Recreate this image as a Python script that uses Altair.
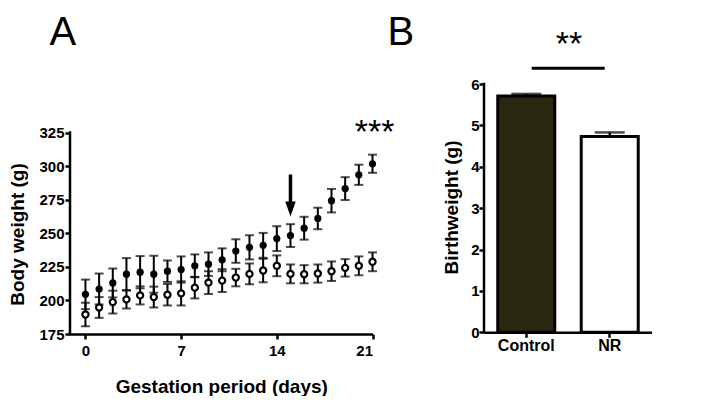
import altair as alt
import pandas as pd

FONT = "Liberation Sans"

# ---------- Panel A data ----------
days = list(range(22))
control_mean = [204.5, 208.5, 213, 219.5, 221, 219.5, 221.75, 223, 225.75, 227, 230.25,
                236.75, 239.5, 241, 246, 248.25, 253.75, 261, 274.25, 283.25, 293.5, 301.75]
control_sem = [11, 11.5, 10.75, 12, 12, 13.75, 8, 9.75, 8.5, 8.75, 8.5,
               8.75, 9, 9.25, 9.25, 8.5, 8.5, 8, 8.75, 8.5, 7.5, 6.75]
nr_mean = [189.5, 194.75, 198.75, 200.75, 203.75, 202.5, 204.25, 205.25, 209.5, 213.25, 214.75,
           217, 219.75, 222.25, 225.75, 219.75, 219.5, 220, 221.75, 224.25, 225.75, 228.75]
nr_sem = [8.75, 7.75, 8.5, 6.75, 6.75, 7.75, 8, 9, 8, 8.5, 8.5,
          6.5, 7.75, 8.75, 7.75, 7, 6.75, 6.75, 7.25, 6.5, 7, 7]
x_ticks = [0, 7, 14, 21]
y_ticks_a = [175, 200, 225, 250, 275, 300, 325]
arrow_day = [15]
arrow_top = [293.75]
arrow_tip = [268]

# ---------- Panel B data ----------
groups = ["Control", "NR"]
birth_mean = [5.71, 4.73]
birth_sem = [0.05, 0.10]
bar_colors = ["#2b2812", "#ffffff"]
y_ticks_b = [0, 1, 2, 3, 4, 5, 6]

rows = []
for d, m, s in zip(days, control_mean, control_sem):
    rows.append({"day": d, "group": "Control", "mean": m, "lo": m - s, "hi": m + s})
for d, m, s in zip(days, nr_mean, nr_sem):
    rows.append({"day": d, "group": "NR", "mean": m, "lo": m - s, "hi": m + s})
dfa = pd.DataFrame(rows)
df_arrow = pd.DataFrame({"day": arrow_day, "top": arrow_top, "tip": arrow_tip})

dfb = pd.DataFrame({"group": groups, "mean": birth_mean,
                    "hi": [m + s for m, s in zip(birth_mean, birth_sem)]})

AW, AH = 302.5, 326
BW, BH = 168, 324.3

xs = alt.Scale(domain=[-1.13, 21], nice=False, zero=False)
ys = alt.Scale(domain=[175, 175 + AH / (201.5 / 150)], nice=False, zero=False)

ax_common = dict(grid=False, domainColor="black", tickColor="black", labelColor="black",
                 titleColor="black", labelFont=FONT, titleFont=FONT, labelFontSize=15,
                 labelFontWeight="bold", titleFontSize=19, titleFontWeight="bold",
                 tickWidth=2.5, domainWidth=2.5, tickSize=5)

x_axis_a = alt.Axis(values=x_ticks, title="Gestation period (days)", labelPadding=4,
                    titlePadding=19, **ax_common)
y_axis_a = alt.Axis(values=y_ticks_a, title="Body weight (g)", domain=False, labelPadding=1,
                    titlePadding=11, titleY=226, **ax_common)

base_a = alt.Chart(dfa)
err = base_a.mark_rule(color="black", strokeWidth=2).encode(
    x=alt.X("day:Q", scale=xs, axis=x_axis_a),
    y=alt.Y("lo:Q", scale=ys, axis=y_axis_a),
    y2="hi:Q")
cap_lo = base_a.mark_tick(orient="horizontal", color="black", size=9, thickness=2).encode(
    x="day:Q", y="lo:Q")
cap_hi = base_a.mark_tick(orient="horizontal", color="black", size=9, thickness=2).encode(
    x="day:Q", y="hi:Q")
open_pts = base_a.transform_filter(alt.datum.group == "NR").mark_point(
    shape="circle", fill="white", stroke="black", strokeWidth=2.2, size=38, opacity=1,
    filled=False).encode(x="day:Q", y="mean:Q")
filled_pts = base_a.transform_filter(alt.datum.group == "Control").mark_point(
    shape="circle", filled=True, color="black", size=52, opacity=1).encode(x="day:Q", y="mean:Q")

y_domain_a = alt.Chart(pd.DataFrame({"a": [175], "b": [325]})).mark_rule(
    color="black", strokeWidth=2.5, strokeCap="square").encode(
    x=alt.value(0), y="a:Q", y2="b:Q")

arrow_shaft = alt.Chart(df_arrow).mark_rule(color="black", strokeWidth=3.5).encode(
    x="day:Q", y="top:Q", y2="tip:Q")
arrow_head = alt.Chart(df_arrow).mark_point(
    shape="M-0.7,-1L0.7,-1L0,1Z", filled=True, color="black", size=225, opacity=1).encode(
    x="day:Q", y="tip:Q")

stars_a = alt.Chart(pd.DataFrame({"x": [21.15], "y": [317.2], "t": ["***"]})).mark_text(
    font=FONT, fontSize=34, align="center", baseline="alphabetic", color="black").encode(
    x="x:Q", y="y:Q", text="t:N")

letter_a = alt.Chart(pd.DataFrame({"t": ["A"]})).mark_text(
    font=FONT, fontSize=40, align="left", baseline="top", color="black").encode(
    x=alt.value(-20.5), y=alt.value(5), text="t:N")
letter_b = alt.Chart(pd.DataFrame({"t": ["B"]})).mark_text(
    font=FONT, fontSize=40, align="left", baseline="top", color="black").encode(
    x=alt.value(317.5), y=alt.value(5), text="t:N")

panel_a = alt.layer(err, cap_lo, cap_hi, open_pts, filled_pts, y_domain_a,
                    arrow_shaft, arrow_head, stars_a, letter_a, letter_b).properties(
    width=AW, height=AH)

# ---------- Panel B ----------
xb = alt.Scale(domain=groups, paddingInner=0.317, paddingOuter=0.165)
yb = alt.Scale(domain=[0, BH / (248.3 / 6)], nice=False, zero=True)
x_axis_b = alt.Axis(title=None, labelAngle=0, labelPadding=0, **{**ax_common, "labelFontSize": 16})
y_axis_b = alt.Axis(values=y_ticks_b, title="Birthweight (g)", domain=False, labelPadding=0,
                    titlePadding=9, titleY=199, **ax_common)

base_b = alt.Chart(dfb)
bars = base_b.mark_bar(stroke="black", strokeWidth=3).encode(
    x=alt.X("group:N", scale=xb, axis=x_axis_b, sort=groups),
    y=alt.Y("mean:Q", scale=yb, axis=y_axis_b),
    fill=alt.Fill("group:N", scale=alt.Scale(domain=groups, range=bar_colors), legend=None))
err_b = base_b.mark_rule(color="black", strokeWidth=2.5).encode(
    x=alt.X("group:N", sort=groups), y="mean:Q", y2="hi:Q")
cap_b = base_b.mark_tick(color="black", size=30, thickness=2.5).encode(
    x=alt.X("group:N", sort=groups), y="hi:Q")
y_domain_b = alt.Chart(pd.DataFrame({"a": [0], "b": [6]})).mark_rule(
    color="black", strokeWidth=2.5, strokeCap="square").encode(
    x=alt.value(0), y="a:Q", y2="b:Q")
sig_line = alt.Chart(pd.DataFrame({"y": [6.38]})).mark_rule(color="black", strokeWidth=2.8).encode(
    x=alt.value(47.7), x2=alt.value(120.7), y="y:Q")
stars_b = alt.Chart(pd.DataFrame({"y": [6.70], "t": ["**"]})).mark_text(
    font=FONT, fontSize=34, align="center", baseline="alphabetic", color="black").encode(
    x=alt.value(85), y="y:Q", text="t:N")

panel_b = alt.layer(bars, err_b, cap_b, y_domain_b, sig_line, stars_b).properties(
    width=BW, height=BH)

chart = alt.hconcat(panel_a, panel_b, spacing=27).properties(
    padding=0, background="white").configure(font=FONT).configure_view(
    stroke=None, strokeWidth=0)

chart.save("out.html", embed_options={"renderer": "svg", "actions": False})
